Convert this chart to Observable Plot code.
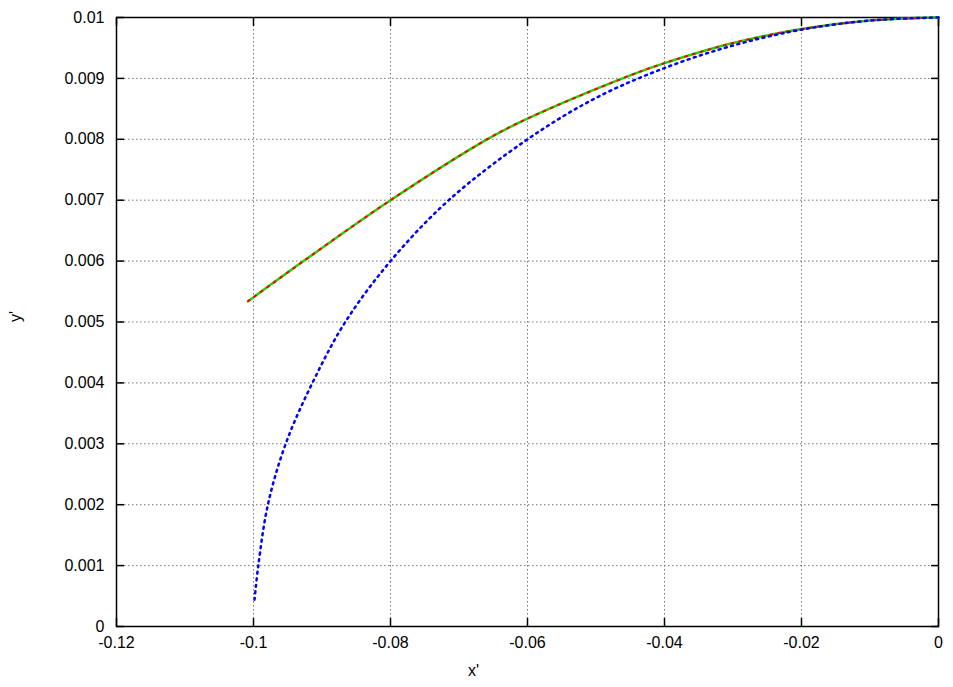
<!DOCTYPE html>
<html><head><meta charset="utf-8">
<script src="https://cdn.jsdelivr.net/npm/d3@7"></script>
<script src="https://cdn.jsdelivr.net/npm/@observablehq/plot@0.6"></script>
<style>body{margin:0;background:#fff} svg{display:block}</style>
</head><body><div id="chart"></div>
<script>
// Tick values
const xTicks = [-0.12, -0.1, -0.08, -0.06, -0.04, -0.02, 0];
const yTicks = [0, 0.001, 0.002, 0.003, 0.004, 0.005, 0.006, 0.007, 0.008, 0.009, 0.01];
const xGrid = [-0.1, -0.08, -0.06, -0.04, -0.02];
const yGrid = [0.001, 0.002, 0.003, 0.004, 0.005, 0.006, 0.007, 0.008, 0.009];
const xLabel = ["x'"];
const yLabel = ["y'"];

// Green solid series
const greenX = [-0.1008, -0.0927, -0.08, -0.0659, -0.06, -0.045, -0.04, -0.03, -0.02, -0.01, 0];
const greenY = [0.00534, 0.006, 0.007, 0.008, 0.00834, 0.00905, 0.00925, 0.00958, 0.00981, 0.00995, 0.01];
// Red dashed series (overlaps green)
const redX = [-0.1008, -0.0927, -0.08, -0.0659, -0.06, -0.045, -0.04, -0.03, -0.02, -0.01, 0];
const redY = [0.00534, 0.006, 0.007, 0.008, 0.00834, 0.00905, 0.00925, 0.00958, 0.00981, 0.00995, 0.01];
// Blue dotted series
const blueX = [-0.09985, -0.0993, -0.0979, -0.0953, -0.0914, -0.0866, -0.08, -0.0715, -0.06, -0.05, -0.04, -0.03, -0.02, -0.01, 0];
const blueY = [0.00044, 0.001, 0.002, 0.003, 0.004, 0.005, 0.006, 0.007, 0.008, 0.00868, 0.00917, 0.00954, 0.0098, 0.00995, 0.01];

const zip = (xs, ys) => xs.map((x, i) => ({x, y: ys[i]}));
const green = zip(greenX, greenY);
const red = zip(redX, redY);
const blue = zip(blueX, blueY);

const fmt = d => String(d);
const none = () => "";

const chart = Plot.plot({
  width: 953, height: 687,
  marginLeft: 116, marginRight: 15, marginTop: 17, marginBottom: 61,
  style: {fontFamily: "'Liberation Sans', Arial, Helvetica, sans-serif", fontSize: "16px", color: "#000", background: "#fff"},
  x: {domain: [-0.12, 0]},
  y: {domain: [0, 0.01]},
  marks: [
    Plot.gridX(xGrid, {stroke: "#666", strokeOpacity: 0.9, strokeDasharray: "1.5,2.5"}),
    Plot.gridY(yGrid, {stroke: "#666", strokeOpacity: 0.9, strokeDasharray: "1.5,2.5"}),
    Plot.axisX(xTicks, {anchor: "bottom", tickSize: 0, tickPadding: 10, tickFormat: fmt, label: null, fontSize: 16}),
    Plot.axisX(xTicks, {anchor: "bottom", tickSize: -8, tickFormat: none, label: null, strokeWidth: 1.5}),
    Plot.axisX(xTicks, {anchor: "top", tickSize: -8, tickFormat: none, label: null, strokeWidth: 1.5}),
    Plot.axisY(yTicks, {anchor: "left", tickSize: 0, tickPadding: 12, tickFormat: fmt, label: null, fontSize: 16}),
    Plot.axisY(yTicks, {anchor: "left", tickSize: -8, tickFormat: none, label: null, strokeWidth: 1.5}),
    Plot.axisY(yTicks, {anchor: "right", tickSize: -8, tickFormat: none, label: null, strokeWidth: 1.5}),
    Plot.frame({stroke: "#000", strokeWidth: 1.5}),
    Plot.line(green, {x: "x", y: "y", stroke: "#22d400", strokeWidth: 2.5, curve: "catmull-rom"}),
    Plot.line(red, {x: "x", y: "y", stroke: "#ff0000", strokeWidth: 2, strokeDasharray: "2,6", curve: "catmull-rom"}),
    Plot.line(blue, {x: "x", y: "y", stroke: "#0000ff", strokeWidth: 2.5, strokeDasharray: "2,4.5", curve: "catmull-rom"}),
    Plot.text(xLabel, {frameAnchor: "bottom", dx: -54, dy: 49, fontSize: 16, fill: "#000"}),
    Plot.text(yLabel, {frameAnchor: "left", dx: -101, rotate: -90, fontSize: 16, fill: "#000"})
  ]
});
document.getElementById("chart").appendChild(chart);
</script>
</body></html>
